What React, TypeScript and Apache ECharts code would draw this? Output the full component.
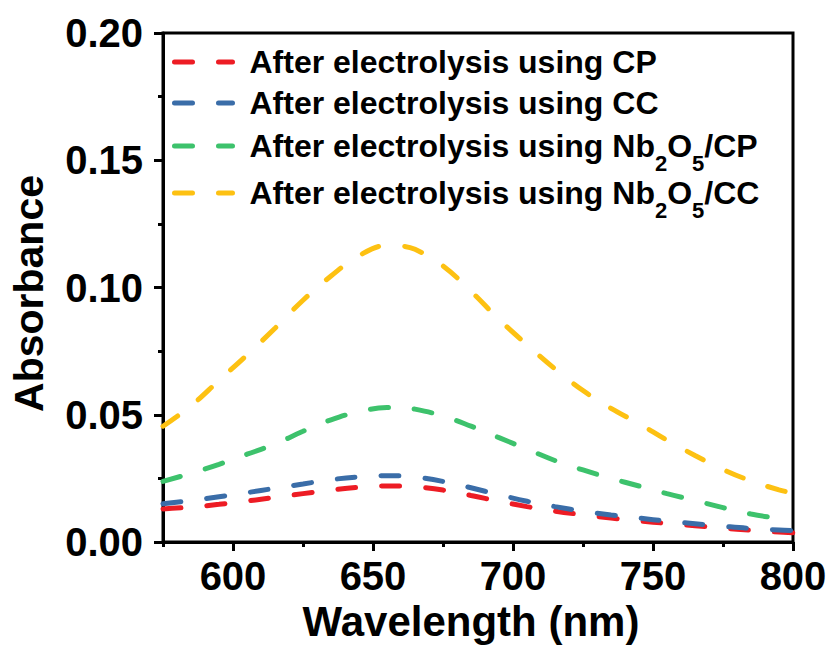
import { useEffect, useRef } from 'react';
import * as echarts from 'echarts';

const wavelengths = [575, 585, 595, 605, 615, 625, 635, 645, 655, 660, 665, 675, 685, 695, 705, 715, 725, 735, 745, 755, 765, 775, 785, 795, 800];
const cpValues = [0.013, 0.0137, 0.0148, 0.0161, 0.0175, 0.019, 0.0204, 0.0215, 0.022, 0.022, 0.0217, 0.0204, 0.0183, 0.016, 0.0139, 0.0121, 0.0107, 0.0094, 0.0083, 0.0073, 0.0064, 0.0055, 0.0046, 0.0039, 0.0036];
const ccValues = [0.015, 0.0163, 0.0178, 0.0194, 0.0211, 0.0228, 0.0245, 0.0256, 0.026, 0.026, 0.0256, 0.0238, 0.0213, 0.0186, 0.016, 0.0139, 0.0121, 0.0106, 0.0094, 0.0082, 0.0072, 0.0062, 0.0053, 0.0047, 0.0045];
const nbCpValues = [0.0238, 0.027, 0.0305, 0.0345, 0.0385, 0.0435, 0.048, 0.0512, 0.0528, 0.0527, 0.0522, 0.0495, 0.0455, 0.041, 0.0365, 0.032, 0.0283, 0.025, 0.022, 0.019, 0.0163, 0.0135, 0.011, 0.0092, 0.0085];
const nbCcValues = [0.0455, 0.0535, 0.0635, 0.0735, 0.084, 0.095, 0.1045, 0.1125, 0.1165, 0.1163, 0.1150, 0.1085, 0.0985, 0.0875, 0.0775, 0.068, 0.0595, 0.0525, 0.0465, 0.04, 0.034, 0.0285, 0.024, 0.0205, 0.0192];

const seriesNames = [
  'After electrolysis using CP',
  'After electrolysis using CC',
  'After electrolysis using Nb2O5/CP',
  'After electrolysis using Nb2O5/CC',
];
const seriesValues = [cpValues, ccValues, nbCpValues, nbCcValues];
const seriesColors = ['#ed1c24', '#3a6da8', '#3dc26c', '#fdc112'];

const xMajorTicks = [600, 650, 700, 750, 800];
const xMinorTicks = [575, 625, 675, 725, 775];

const FONT = '"Liberation Sans", Arial, sans-serif';
const legendTops = [46, 87, 130, 177];

export default function App() {
  const ref = useRef<HTMLDivElement>(null);
  useEffect(() => {
    if (!ref.current) return;
    const chart = echarts.init(ref.current, undefined, { renderer: 'svg' });
    const labelStyle = { fontFamily: FONT, fontWeight: 'bold' as const, color: '#000', fontSize: 40 };
    const base = { fontFamily: FONT, fontWeight: 'bold', fontSize: 32, color: '#000', lineHeight: 32 };
    const legends = seriesNames.map((name, i) => ({
      orient: 'vertical',
      left: 172,
      top: legendTops[i],
      padding: 0,
      itemWidth: 58,
      itemHeight: 14,
      data: [name],
      selectedMode: false,
      itemStyle: { color: 'rgba(0,0,0,0)', borderWidth: 0, opacity: 0 },
      lineStyle: { width: 5, type: [18, 26], cap: 'round', color: seriesColors[i] },
      formatter: (nm: string) => {
        if (nm.indexOf('Nb2O5') >= 0) {
          const parts = nm.split('Nb2O5');
          return `{f|${parts[0]}Nb}{s|2}{n|O}{s|5}{n|${parts[1]}}`;
        }
        return `{f|${nm}}`;
      },
      textStyle: {
        ...base,
        rich: {
          f: { ...base, padding: [0, 0, 0, 12] },
          n: { ...base },
          s: {
            fontFamily: FONT,
            fontWeight: 'bold',
            fontSize: 22,
            color: '#000',
            lineHeight: 32,
            height: 22,
            verticalAlign: 'top',
            padding: [22, 0, 0, 0],
          },
        },
      },
    }));
    chart.setOption({
      animation: false,
      backgroundColor: '#fff',
      grid: {
        left: 162,
        right: 39,
        top: 33,
        bottom: 106,
        show: true,
        borderColor: '#000',
        borderWidth: 3,
        backgroundColor: 'transparent',
      },
      legend: legends,
      xAxis: [
        {
          type: 'value',
          min: 575,
          max: 800,
          position: 'bottom',
          name: 'Wavelength (nm)',
          nameLocation: 'middle',
          nameGap: 56,
          nameTextStyle: { fontFamily: FONT, fontWeight: 'bold', color: '#000', fontSize: 42, padding: [0, 14, 0, 0] },
          axisLine: { show: true, lineStyle: { color: '#000', width: 3 } },
          axisTick: { show: true, customValues: xMajorTicks, length: 9, lineStyle: { color: '#000', width: 3 } },
          axisLabel: { ...labelStyle, customValues: xMajorTicks, margin: 14 },
          splitLine: { show: false },
        },
        {
          type: 'value',
          min: 575,
          max: 800,
          position: 'bottom',
          axisLine: { show: false },
          axisTick: { show: true, customValues: xMinorTicks, length: 5, lineStyle: { color: '#000', width: 3 } },
          axisLabel: { show: false },
          splitLine: { show: false },
        },
      ],
      yAxis: {
        type: 'value',
        min: 0,
        max: 0.2,
        interval: 0.05,
        name: 'Absorbance',
        nameLocation: 'middle',
        nameGap: 114,
        nameTextStyle: { fontFamily: FONT, fontWeight: 'bold', color: '#000', fontSize: 41, padding: [0, 12, 0, 0] },
        axisLine: { show: true, lineStyle: { color: '#000', width: 3 } },
        axisTick: { show: true, length: 9, lineStyle: { color: '#000', width: 3 } },
        minorTick: { show: true, splitNumber: 2, length: 5, lineStyle: { color: '#000', width: 3 } },
        axisLabel: { ...labelStyle, margin: 20, formatter: (v: number) => v.toFixed(2) },
        splitLine: { show: false },
        minorSplitLine: { show: false },
      },
      series: seriesNames.map((name, i) => ({
        name,
        type: 'line',
        xAxisIndex: 0,
        symbol: 'none',
        smooth: 0.4,
        color: seriesColors[i],
        lineStyle: { color: seriesColors[i], width: 5, type: [18, 26], cap: 'round' },
        data: wavelengths.map((w, j) => [w, seriesValues[i][j]]),
      })),
    });
    return () => chart.dispose();
  }, []);
  return <div ref={ref} style={{ position: 'fixed', left: 0, top: 0, width: 832, height: 648 }} />;
}
